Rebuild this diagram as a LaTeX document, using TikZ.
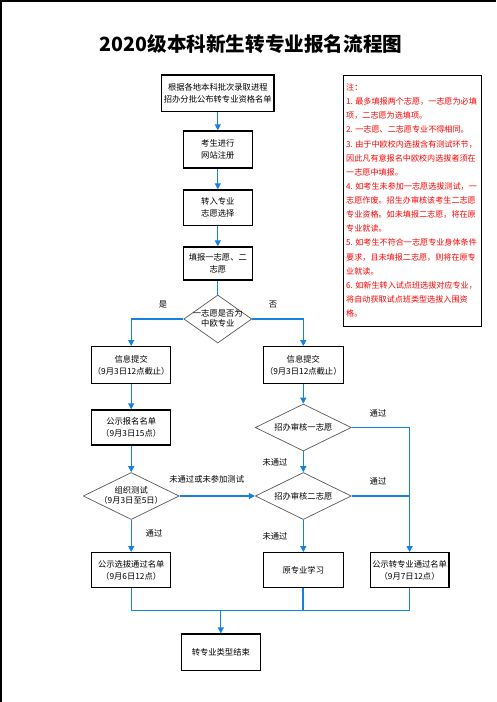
\documentclass[tikz,border=0pt]{standalone}
\usepackage{fontspec}
\setmainfont{Noto Sans CJK SC}
\usetikzlibrary{arrows.meta,shapes.geometric}
\definecolor{flowblue}{RGB}{20,130,225}
\definecolor{notered}{RGB}{255,0,0}
\begin{document}
\begin{tikzpicture}[x=1pt,y=-1pt,
  box/.style={draw=black,line width=1.3pt,inner sep=0pt,align=center,
    font=\fontsize{8.3}{12}\selectfont},
  dia/.style={diamond,draw=black!65,line width=0.7pt,inner sep=0pt},
  diatext/.style={align=center,inner sep=0pt,font=\fontsize{8.3}{10.5}\selectfont},
  lab/.style={inner sep=0pt,font=\fontsize{8.3}{10}\selectfont},
  conn/.style={draw=flowblue,line width=1.2pt},
  arr/.style={conn,-{Triangle[width=6pt,length=6pt]}}]
\useasboundingbox (0,0) rectangle (496,702);
% page border (top and left)
\draw[line width=1.5pt] (0,1) -- (496,1);
\draw[line width=1.5pt] (1,0) -- (1,702);
% title
\node[inner sep=0pt,font=\fontsize{19.6}{21}\selectfont\bfseries] (title) at (251,44) {2020级本科新生转专业报名流程图};
% main column
\node[box,minimum width=112.3pt,minimum height=36.7pt] (b1) at (217.8,93.3) {根据各地本科批次录取进程\\招办分批公布转专业资格名单};
\node[box,minimum width=69pt,minimum height=37pt] (b2) at (217.8,149.5) {考生进行\\网站注册};
\node[box,minimum width=69pt,minimum height=35.7pt] (b3) at (217.8,207.8) {转入专业\\志愿选择};
\node[box,minimum width=69pt,minimum height=33pt] (b4) at (217.8,263.5) {填报一志愿、二\\志愿};
\node[dia,minimum width=68pt,minimum height=48pt] (d1) at (217.8,319) {};
\node[diatext] (d1t) at (217.8,318.5) {一志愿是否为\\中欧专业};
% left column
\node[box,minimum width=79pt,minimum height=36.6pt] (b5) at (131.2,365) {信息提交\\（9月3日12点截止）};
\node[box,minimum width=79pt,minimum height=35pt] (b7) at (131.2,427.5) {公示报名名单\\（9月3日15点）};
\node[dia,minimum width=96pt,minimum height=47pt] (d2) at (131.2,496) {};
\node[diatext] (d2t) at (131.2,495.5) {组织测试\\（9月3日至5日）};
\node[box,minimum width=79pt,minimum height=34.6pt] (b9) at (131.2,570) {公示选拔通过名单\\（9月6日12点）};
% right column
\node[box,minimum width=80pt,minimum height=36.6pt] (b6) at (303.3,365) {信息提交\\（9月3日12点截止）};
\node[dia,minimum width=96pt,minimum height=47pt] (d3) at (303.3,427.5) {};
\node[diatext] (d3t) at (303.3,427.5) {招办审核一志愿};
\node[dia,minimum width=96pt,minimum height=47pt] (d4) at (303.3,496) {};
\node[diatext] (d4t) at (303.3,496) {招办审核二志愿};
\node[box,minimum width=80pt,minimum height=34.6pt] (b10) at (303.3,570) {原专业学习};
\node[box,minimum width=78.6pt,minimum height=34.6pt] (b11) at (409.6,570) {公示转专业通过名单\\（9月7日12点）};
\node[box,minimum width=79pt,minimum height=36.3pt] (b12) at (220.8,652.2) {转专业类型结束};
% notes
\node[draw=black,line width=1.3pt,inner sep=0pt,minimum width=138pt,minimum height=251.4pt] (notebox) at (412.3,201) {};
\node[anchor=north west,inner sep=0pt,align=left,text=notered,
  font=\fontsize{8.1}{14.125}\selectfont] (notes) at (346,83.5) {注：\\
1. 最多填报两个志愿，一志愿为必填\\
项，二志愿为选填项。\\
2. 一志愿、二志愿专业不得相同。\\
3. 由于中欧校内选拔含有测试环节，\\
因此凡有意报名中欧校内选拔者须在\\
一志愿中填报。\\
4. 如考生未参加一志愿选拔测试，一\\
志愿作废。招生办审核该考生二志愿\\
专业资格。如未填报二志愿，将在原\\
专业就读。\\
5. 如考生不符合一志愿专业身体条件\\
要求，且未填报二志愿，则将在原专\\
业就读。\\
6. 如新生转入试点班选拔对应专业，\\
将自动获取试点班类型选拔入围资\\
格。};
% labels
\node[lab] (lyes) at (163,305) {是};
\node[lab] (lno) at (273,305) {否};
\node[lab] (lp1) at (378,413) {通过};
\node[lab] (lf1) at (275,462.7) {未通过};
\node[lab] (lp2) at (378,481.7) {通过};
\node[lab] (lf2) at (275,536) {未通过};
\node[lab] (lp3) at (154,533) {通过};
\node[lab] (lf3) at (206.7,479) {未通过或未参加测试};
% connectors
\coordinate (jr) at (409.6,496);
\coordinate (jb) at (220.8,610.3);
\draw[arr] (b1) -- (b2);
\draw[arr] (b2) -- (b3);
\draw[arr] (b3) -- (b4);
\draw[conn] (b4) -- (d1);
\draw[arr] (d1.west) -| (b5.north);
\draw[arr] (d1.east) -| (b6.north);
\draw[arr] (b5) -- (b7);
\draw[arr] (b7) -- (d2);
\draw[arr] (d2.east) -- (d4.west);
\draw[arr] (d2) -- (b9);
\draw[arr] (b6) -- (d3);
\draw[arr] (d3) -- (d4);
\draw[arr] (d3.east) -| (b11.north);
\draw[conn] (d4.east) -- (jr);
\draw[arr] (d4) -- (b10);
\draw[conn] (b9.south) |- (jb);
\draw[conn] (b11.south) |- (jb);
\draw[conn,line width=2pt] (b10.south) -- (b10.south |- jb);
\draw[arr] (jb) -- (b12);
\end{tikzpicture}
\end{document}
